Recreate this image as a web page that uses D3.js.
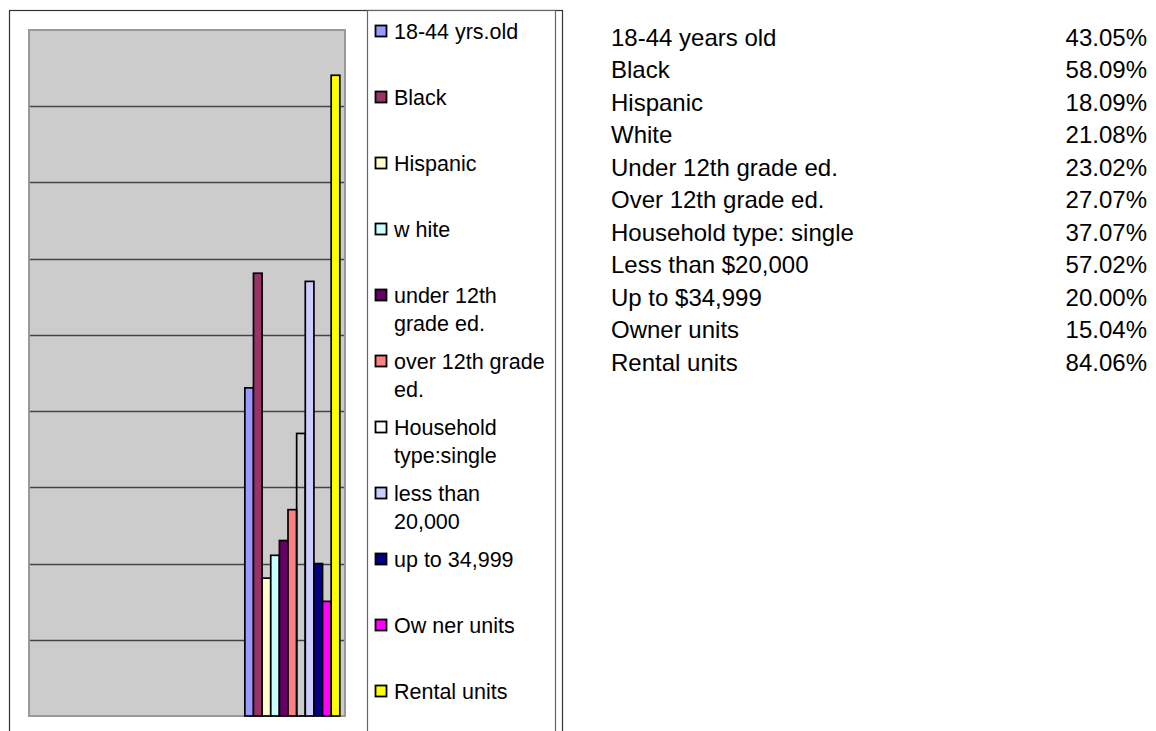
<!DOCTYPE html>
<html>
<head>
<meta charset="utf-8">
<script src="https://cdn.jsdelivr.net/npm/d3@7"></script>
<style>
  html, body { margin: 0; padding: 0; background: #fff; }
  svg { display: block; font-family: Arial, "Liberation Sans", sans-serif; }
</style>
</head>
<body>
<svg id="chart" width="1156" height="731"></svg>
<script>
// ---- data ----
const seriesNames = ["18-44 yrs.old", "Black", "Hispanic", "w hite", "under 12th\ngrade ed.",
  "over 12th grade\ned.", "Household\ntype:single", "less than\n20,000", "up to 34,999",
  "Ow ner units", "Rental units"];
const seriesValues = [43.05, 58.09, 18.09, 21.08, 23.02, 27.07, 37.07, 57.02, 20.00, 15.04, 84.06];
const seriesColors = ["#9999FF", "#993366", "#FFFFCC", "#CCFFFF", "#660066", "#FF8080",
  "none", "#CCCCFF", "#000080", "#FF00FF", "#FFFF00"];
const groups = ["g1", "g2", "g3"];       // category slots on the x axis
const dataGroup = "g3";                   // only this slot holds values
const yTicks = [0, 10, 20, 30, 40, 50, 60, 70, 80, 90];

const tableLabels = ["18-44 years old", "Black", "Hispanic", "White", "Under 12th grade ed.",
  "Over 12th grade ed.", "Household type: single", "Less than $20,000", "Up to $34,999",
  "Owner units", "Rental units"];
const tableValues = ["43.05%", "58.09%", "18.09%", "21.08%", "23.02%", "27.07%", "37.07%",
  "57.02%", "20.00%", "15.04%", "84.06%"];

// ---- layout ----
const svg = d3.select("#chart");
const plot = { left: 29, top: 30, right: 345, bottom: 716 };

// outer chart frame
svg.append("rect").attr("x", 9.5).attr("y", 10.5).attr("width", 553).attr("height", 740)
  .attr("fill", "#fff").attr("stroke", "#333").attr("stroke-width", 1.2);

// plot area
svg.append("rect").attr("x", plot.left).attr("y", plot.top)
  .attr("width", plot.right - plot.left).attr("height", plot.bottom - plot.top)
  .attr("fill", "#CCCCCC");

const y = d3.scaleLinear().domain([0, 90]).range([plot.bottom, plot.top]);
const x0 = d3.scaleBand().domain(groups).range([plot.left, plot.right]).padding(0);
const x1 = d3.scaleBand().domain(d3.range(seriesValues.length))
  .range([0, x0.bandwidth()]).paddingInner(0).paddingOuter(0.6);

// gridlines
svg.append("g").selectAll("line").data(yTicks.filter(t => t > 0 && t < 90)).join("line")
  .attr("x1", plot.left).attr("x2", plot.right)
  .attr("y1", d => Math.round(y(d)) + 0.5).attr("y2", d => Math.round(y(d)) + 0.5)
  .attr("stroke", "#444").attr("stroke-width", 1.3);

// plot border
svg.append("rect").attr("x", plot.left).attr("y", plot.top)
  .attr("width", plot.right - plot.left).attr("height", plot.bottom - plot.top)
  .attr("fill", "none").attr("stroke", "#999").attr("stroke-width", 2);

// bars
svg.append("g").attr("transform", `translate(${x0(dataGroup)},0)`)
  .selectAll("rect").data(seriesValues).join("rect")
  .attr("x", (d, i) => x1(i))
  .attr("width", x1.bandwidth())
  .attr("y", d => y(d))
  .attr("height", d => y(0) - y(d))
  .attr("fill", (d, i) => seriesColors[i])
  .attr("stroke", "#000").attr("stroke-width", 1.7);

// legend box
svg.append("rect").attr("x", 367.5).attr("y", 10.5).attr("width", 188).attr("height", 740)
  .attr("fill", "#fff").attr("stroke", "#666").attr("stroke-width", 1.2);

const ly = d3.scalePoint().domain(d3.range(seriesNames.length)).range([31, 691]);
const leg = svg.append("g").selectAll("g").data(seriesNames).join("g")
  .attr("transform", (d, i) => `translate(0,${ly(i)})`);
leg.append("rect").attr("x", 375.5).attr("y", -5.5).attr("width", 11).attr("height", 11)
  .attr("fill", (d, i) => seriesColors[i] === "none" ? "#fff" : seriesColors[i])
  .attr("stroke", "#000").attr("stroke-width", 1.8);
leg.append("text").attr("x", 394).attr("font-size", 21.5).attr("fill", "#000")
  .selectAll("tspan").data(d => d.split("\n")).join("tspan")
  .attr("x", 394).attr("y", (d, i) => i * 28).attr("dy", "0.36em").text(d => d);

// table
const rowY = d3.scalePoint().domain(d3.range(tableLabels.length)).range([37, 362]);
const tbl = svg.append("g").selectAll("g").data(tableLabels).join("g")
  .attr("transform", (d, i) => `translate(0,${rowY(i)})`);
tbl.append("text").attr("x", 611).attr("dy", "0.36em").attr("font-size", 24)
  .text(d => d);
tbl.append("text").attr("x", 1147).attr("dy", "0.36em").attr("font-size", 24)
  .attr("text-anchor", "end").text((d, i) => tableValues[i]);
</script>
</body>
</html>
